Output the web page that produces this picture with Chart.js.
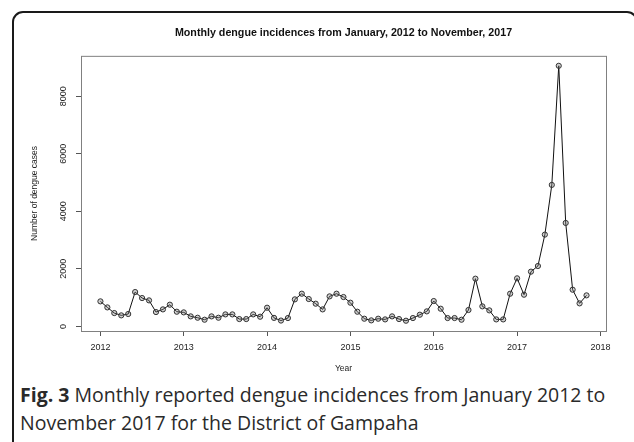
<!DOCTYPE html>
<html>
<head>
<meta charset="utf-8">
<script src="https://cdn.jsdelivr.net/npm/chart.js@4.4.1/dist/chart.umd.min.js"></script>
<style>
  html, body { margin: 0; padding: 0; background: #fff; width: 634px; height: 442px; overflow: hidden; }
  .frame { position: absolute; left: 12px; top: 11px; width: 626px; height: 460px; box-sizing: border-box;
           border: 2px solid #1a1a1a; border-radius: 11px; }
  #dengue { position: absolute; left: 0; top: 0; }
  .caption { position: absolute; left: 20px; top: 381px; font-family: "Open Sans", sans-serif; font-size: 19.5px;
             line-height: 28px; color: #2a2a2a; width: 610px; }
  .caption b { font-weight: 700; }
</style>
</head>
<body>
<div class="frame"></div>
<canvas id="dengue" width="634" height="380"></canvas>
<div class="caption"><b>Fig. 3</b> Monthly reported dengue incidences from January 2012 to November 2017 for the District of Gampaha</div>
<script>
// Data: monthly dengue cases, Jan 2012 - Nov 2017
const years = [2012, 2013, 2014, 2015, 2016, 2017];
const cases2012 = [870, 660, 463, 383, 430, 1194, 985, 904, 498, 591, 754, 510];
const cases2013 = [487, 348, 301, 232, 348, 301, 417, 417, 255, 255, 417, 336];
const cases2014 = [649, 296, 203, 290, 939, 1136, 951, 789, 591, 1043, 1136, 1020];
const cases2015 = [823, 510, 267, 209, 267, 243, 348, 255, 197, 290, 406, 522];
const cases2016 = [881, 614, 290, 290, 232, 570, 1658, 696, 557, 243, 243, 1136];
const cases2017 = [1670, 1101, 1902, 2098, 3189, 4916, 9054, 3594, 1275, 800, 1078];
const xTicks = [2012, 2013, 2014, 2015, 2016, 2017, 2018];
const yTicks = [0, 2000, 4000, 6000, 8000];

const allCases = [cases2012, cases2013, cases2014, cases2015, cases2016, cases2017];
const points = [];
allCases.forEach(function (arr, i) {
    arr.forEach(function (v, m) {
        points.push({x: years[i] + m / 12, y: v});
    });
});

// Styles
const fontFamily = '"Liberation Sans", Arial, sans-serif';
const boxColor = '#808080';
const tickColor = '#555';
const textColor = '#222';

// Plot box + rotated y tick labels (R style)
const rBox = {
    id: 'rBox',
    afterDraw(chart) {
        const {ctx, chartArea: {left, top, right, bottom}} = chart;
        const y = chart.scales.y;
        ctx.save();
        ctx.strokeStyle = boxColor;
        ctx.lineWidth = 1;
        ctx.strokeRect(left + 0.5, top + 0.5, right - left, bottom - top);

        ctx.fillStyle = textColor;
        ctx.font = '9px ' + fontFamily;
        ctx.textAlign = 'center';
        ctx.textBaseline = 'middle';
        yTicks.forEach(function (v) {
            ctx.save();
            ctx.translate(64, y.getPixelForValue(v));
            ctx.rotate(-Math.PI / 2);
            ctx.fillText(String(v), 0, 0);
            ctx.restore();
        });
        ctx.restore();
    }
};

const config = {
    type: 'line',
    data: {
        datasets: [{
            label: 'Cases',
            data: points,
            borderColor: '#111',
            borderWidth: 1,
            pointRadius: 2.6,
            pointBorderWidth: 1,
            pointBorderColor: '#333',
            pointBackgroundColor: 'rgba(120,120,120,0.35)',
            tension: 0,
            fill: false,
        }],
    },
    plugins: [rBox],
    options: {
        responsive: false,
        animation: false,
        layout: {padding: {left: 0, right: 28, top: 0, bottom: 0}},
        plugins: {
            legend: {display: false},
            tooltip: {enabled: false},
            title: {
                display: true,
                fullSize: false,
                text: 'Monthly dengue incidences from January, 2012 to November, 2017',
                color: '#111',
                font: {family: fontFamily, size: 10.7, weight: 'bold'},
                padding: {top: 27, bottom: 16},
            },
        },
        scales: {
            x: {
                type: 'linear',
                min: 2011.767,
                max: 2018.067,
                afterBuildTicks: function (scale) {
                    scale.ticks = xTicks.map(function (v) { return {value: v}; });
                },
                afterFit: function (scale) { scale.height = 49; },
                border: {display: false},
                grid: {drawOnChartArea: false, drawTicks: true, tickLength: 5, color: tickColor},
                ticks: {
                    color: textColor,
                    font: {family: fontFamily, size: 9},
                    padding: 6,
                    maxRotation: 0,
                    callback: function (value) { return String(value); },
                },
                title: {
                    display: true,
                    text: 'Year',
                    color: textColor,
                    font: {family: fontFamily, size: 8.5},
                    padding: {top: 0, bottom: 6},
                },
            },
            y: {
                min: -160,
                max: 9400,
                afterBuildTicks: function (scale) {
                    scale.ticks = yTicks.map(function (v) { return {value: v}; });
                },
                afterFit: function (scale) { scale.width = 81; },
                border: {display: false},
                grid: {drawOnChartArea: false, drawTicks: true, tickLength: 5, color: tickColor},
                ticks: {display: false},
                title: {
                    display: true,
                    text: 'Number of dengue cases',
                    color: textColor,
                    font: {family: fontFamily, size: 8.5},
                    padding: {top: 30, bottom: 0},
                },
            },
        },
    },
};

const lineChart = new Chart(document.getElementById('dengue'), config);
</script>
</body>
</html>
